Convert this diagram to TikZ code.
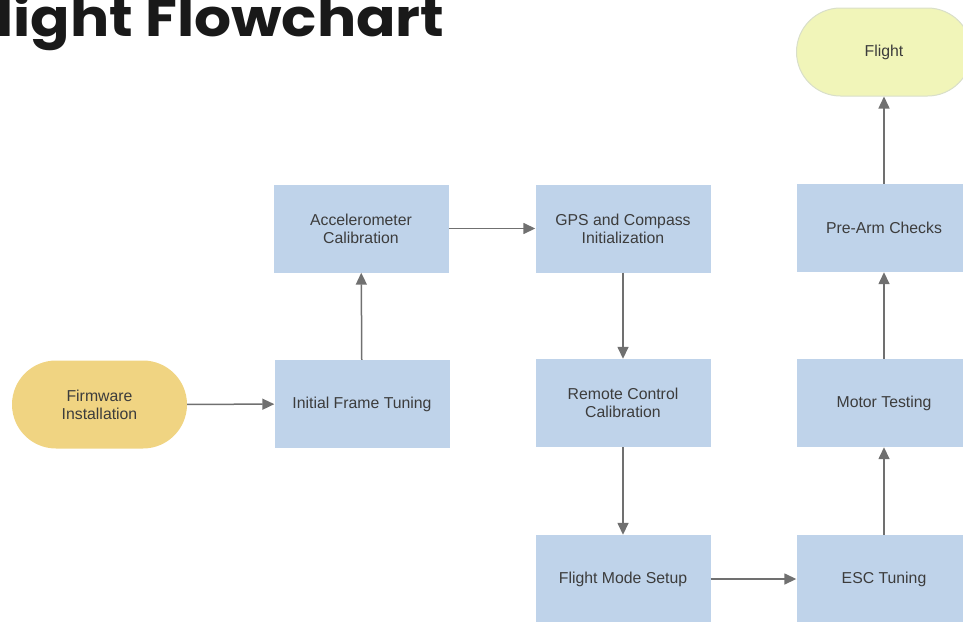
\documentclass[tikz,border=0pt]{standalone}
\usepackage{fontspec}
\setmainfont{Liberation Sans}
\newfontfamily\titlefont{Poppins}[FakeStretch=1.12]
\usetikzlibrary{arrows.meta}
\definecolor{boxblue}{HTML}{BFD3EA}
\definecolor{firmgold}{HTML}{F0D482}
\definecolor{flightgreen}{HTML}{F1F5B9}
\definecolor{flightborder}{HTML}{D9DFC9}
\definecolor{linegrey}{HTML}{707070}
\definecolor{textgrey}{HTML}{3C3C3C}
\begin{document}
\begin{tikzpicture}[x=1pt,y=-1pt,
  stepbox/.style={rectangle, fill=boxblue, draw=none, minimum width=175pt, minimum height=88pt, inner sep=0pt,
    align=center, text=textgrey, font=\fontsize{15.8}{18}\selectfont},
  terminal/.style={rectangle, rounded corners=44pt, minimum width=175pt, minimum height=88pt, inner sep=0pt,
    align=center, text=textgrey, font=\fontsize{15.8}{18}\selectfont},
  flow/.style={draw=linegrey, line width=1.5pt, -{Triangle[length=12pt,width=11pt]}}
]
\useasboundingbox (0,0) rectangle (963,621);
\begin{scope}
\clip (0,0) rectangle (963,621);
\node[anchor=base west, font=\titlefont\bfseries\fontsize{52}{52}\selectfont, text=black!90, inner sep=0pt] (title) at (-4,36) {light Flowchart};

\node[terminal, fill=firmgold] (firm) at (99.5,404.5) {Firmware\\Installation};
\node[stepbox] (init) at (362,404) {Initial Frame Tuning};
\node[stepbox] (acc) at (361,228.5) {Accelerometer\\Calibration};
\node[stepbox] (gps) at (623,228.5) {GPS and Compass\\Initialization};
\node[stepbox] (rc) at (623,403) {Remote Control\\Calibration};
\node[stepbox] (fm) at (623,579) {Flight Mode Setup};
\node[stepbox] (esc) at (884,579) {ESC Tuning};
\node[stepbox] (mt) at (884,403) {Motor Testing};
\node[stepbox] (pac) at (884,228) {Pre-Arm Checks};
\node[terminal, fill=flightgreen, draw=flightborder, line width=1pt] (flight) at (884,52) {Flight};

\draw[flow] (firm) -- (init);
\draw[flow] (init) -- (acc);
\draw[flow] (acc) -- (gps);
\draw[flow] (gps) -- (rc);
\draw[flow] (rc) -- (fm);
\draw[flow] (fm) -- (esc);
\draw[flow] (esc) -- (mt);
\draw[flow] (mt) -- (pac);
\draw[flow] (pac) -- (flight);
\end{scope}
\end{tikzpicture}
\end{document}
